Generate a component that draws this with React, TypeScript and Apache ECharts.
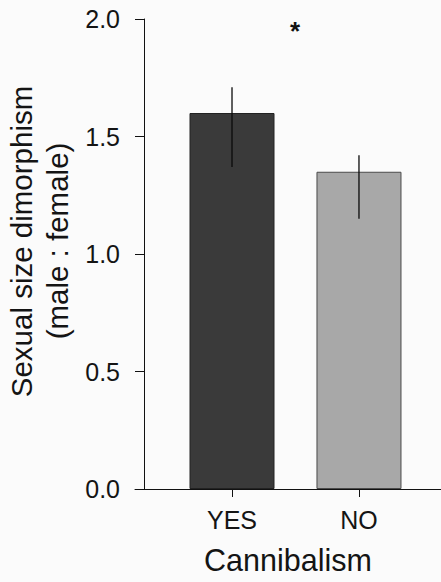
import React, { useEffect, useRef } from "react";
import * as echarts from "echarts";

const categories = ["YES", "NO"];
const xPositions = [1, 2];
const meanValues = [1.6, 1.35];
const lowerValues = [1.37, 1.15];
const upperValues = [1.71, 1.42];
const barColors = ["#3a3a3a", "#a8a8a8"];
const barBorders = ["#222222", "#4a4a4a"];
const yAxisTitle = ["Sexual size dimorphism", "(male : female)"];
const xAxisTitle = "Cannibalism";
const significanceMark = "*";

export default function App() {
  const ref = useRef<HTMLDivElement>(null);

  useEffect(() => {
    if (!ref.current) return;
    const chart = echarts.init(ref.current, undefined, { renderer: "svg" });
    const font = "'Liberation Sans', Arial, sans-serif";
    const textColor = "#141414";

    const option = {
      animation: false,
      backgroundColor: "#fbfbfb",
      textStyle: { fontFamily: font },
      grid: { left: 135, right: 0, top: 19, bottom: 93, containLabel: false },
      xAxis: {
        type: "value",
        min: 0.236,
        max: 2.646,
        name: xAxisTitle,
        nameLocation: "middle",
        nameGap: 55,
        nameTextStyle: { fontSize: 30.5, color: textColor, fontFamily: font },
        axisLine: { show: true, onZero: false, lineStyle: { color: "#111", width: 1 } },
        axisTick: {
          show: true,
          inside: false,
          length: 8,
          customValues: xPositions,
          lineStyle: { color: "#111", width: 1 },
        },
        axisLabel: {
          show: true,
          customValues: xPositions,
          margin: 18,
          fontSize: 25,
          color: textColor,
          fontFamily: font,
          formatter: (v: number) => categories[xPositions.indexOf(v)] ?? "",
        },
        splitLine: { show: false },
      },
      yAxis: {
        type: "value",
        min: 0,
        max: 2,
        interval: 0.5,
        offset: -9,
        axisLine: { show: true, onZero: false, lineStyle: { color: "#111", width: 1 } },
        axisTick: { show: true, inside: false, length: 9, lineStyle: { color: "#111", width: 1 } },
        axisLabel: {
          margin: 24,
          fontSize: 25,
          color: textColor,
          fontFamily: font,
          formatter: (v: number) => v.toFixed(1),
        },
        splitLine: { show: false },
      },
      graphic: [
        {
          type: "text",
          x: 21.5,
          y: 241.5,
          rotation: Math.PI / 2,
          style: {
            text: yAxisTitle[0],
            fontSize: 29.5,
            fontFamily: font,
            fill: textColor,
            textAlign: "center",
            textVerticalAlign: "middle",
          },
        },
        {
          type: "text",
          x: 57.5,
          y: 241,
          rotation: Math.PI / 2,
          style: {
            text: yAxisTitle[1],
            fontSize: 29.5,
            fontFamily: font,
            fill: textColor,
            textAlign: "center",
            textVerticalAlign: "middle",
          },
        },
        {
          type: "text",
          x: 295,
          y: 31,
          style: {
            text: significanceMark,
            fontSize: 26,
            fontWeight: "bold",
            fontFamily: font,
            fill: "#111",
            textAlign: "center",
            textVerticalAlign: "middle",
          },
        },
      ],
      series: [
        {
          type: "bar",
          barWidth: 85,
          data: meanValues.map((v, i) => ({
            value: [xPositions[i], v],
            itemStyle: { color: barColors[i], borderColor: barBorders[i], borderWidth: 1 },
          })),
          z: 2,
        },
        {
          type: "custom",
          z: 5,
          data: xPositions.map((x, i) => [x, lowerValues[i], upperValues[i]]),
          renderItem: (params: any, api: any) => {
            const x = api.value(0);
            const p1 = api.coord([x, api.value(1)]);
            const p2 = api.coord([x, api.value(2)]);
            return {
              type: "line",
              shape: { x1: p1[0], y1: p1[1], x2: p2[0], y2: p2[1] },
              style: { stroke: "#0a0a0a", lineWidth: 1.3 },
            };
          },
        },
      ],
    };

    chart.setOption(option as any);
    return () => chart.dispose();
  }, []);

  return (
    <div
      ref={ref}
      style={{ position: "fixed", left: 0, top: 0, width: 441, height: 582 }}
    />
  );
}
